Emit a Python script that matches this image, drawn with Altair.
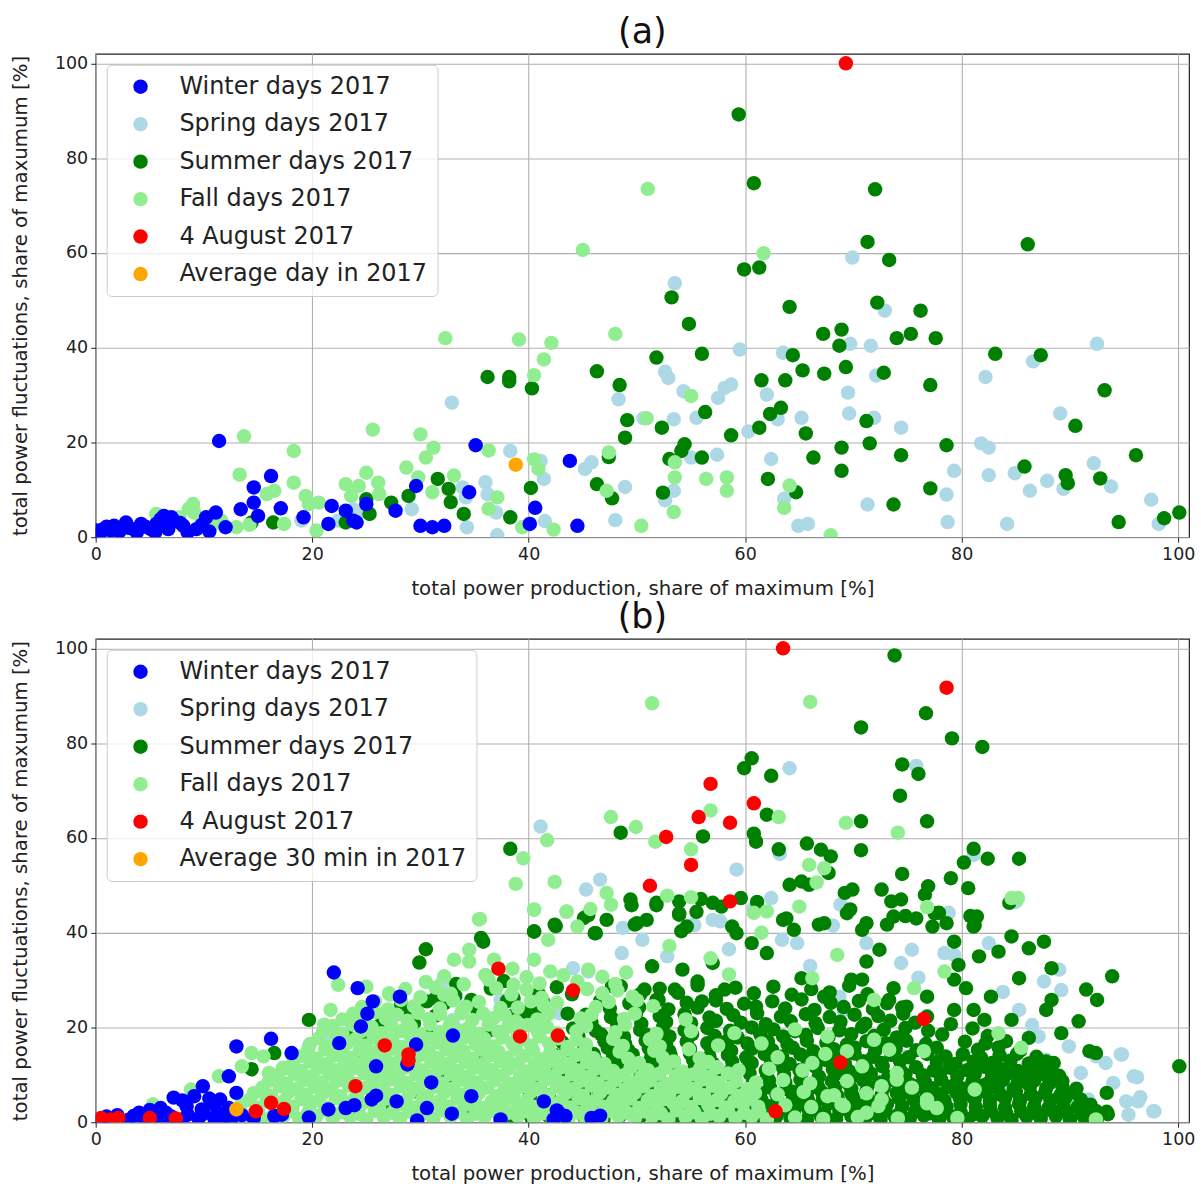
import altair as alt
import pandas as pd

# ---------------------------------------------------------------------------
# (a) daily values, 2017
# ---------------------------------------------------------------------------
A_WINTER = [
    (11.4, 20.3), (16.2, 12.9), (14.6, 10.5), (14.6, 7.3), (15.0, 4.5), (13.4, 5.9),
    (11.1, 5.2), (17.1, 6.1), (12.0, 2.1), (9.3, 1.7), (8.1, 2.4), (7.2, 3.5),
    (6.3, 4.5), (5.6, 2.8), (4.2, 2.8), (2.8, 3.1), (1.7, 2.4), (0.7, 1.7),
    (0.1, 1.4), (1.4, 1.4), (3.5, 1.7), (5.1, 1.7), (6.7, 1.7), (0.4, 0.8),
    (1.0, 2.2), (2.2, 1.2), (3.0, 2.0), (3.8, 1.0), (4.6, 2.2), (5.5, 1.0),
    (6.0, 3.8), (7.0, 4.2), (7.8, 3.0), (8.5, 1.0), (9.8, 2.6), (10.5, 1.2),
    (10.2, 4.2), (21.5, 2.8), (21.8, 6.6), (23.1, 5.6), (23.8, 3.5), (24.1, 3.1),
    (25.0, 7.0), (27.7, 5.6), (30.0, 2.4), (29.6, 10.8), (19.2, 4.2), (35.1, 19.4),
    (43.8, 16.1), (40.6, 6.2), (40.1, 2.8), (44.5, 2.4), (32.2, 2.4), (31.1, 2.1),
    (34.5, 9.5),
]
A_SPRING = [
    (29.2, 5.9), (23.8, 5.9), (24.3, 5.2), (22.4, 3.5), (19.0, 3.5), (32.9, 28.4),
    (38.3, 18.2), (41.1, 16.1), (41.4, 12.3), (45.2, 14.4), (45.8, 15.8), (36.0, 11.6),
    (36.2, 9.1), (33.9, 10.5), (34.2, 8.4), (34.3, 2.1), (37.1, 0.4), (41.5, 3.4),
    (37.0, 5.2), (48.3, 29.1), (50.6, 25.1), (53.4, 24.9), (52.6, 34.9), (52.9, 33.6),
    (54.3, 30.8), (57.5, 29.4), (58.1, 31.5), (58.7, 32.2), (55.5, 25.2), (57.4, 17.4),
    (55.0, 16.8), (48.9, 10.6), (52.6, 7.8), (53.4, 9.8), (48.0, 3.6), (59.5, 39.6),
    (60.3, 22.3), (62.0, 30.1), (63.5, 38.9), (63.0, 24.9), (65.2, 25.2), (62.4, 16.5),
    (63.6, 8.1), (64.9, 2.4), (65.8, 2.8), (53.5, 53.6), (69.9, 59.0), (72.9, 47.8),
    (69.7, 40.8), (71.6, 40.4), (92.5, 40.8), (72.1, 34.1), (69.5, 30.5), (82.2, 33.8),
    (69.6, 26.1), (71.9, 25.2), (74.4, 23.1), (89.1, 26.1), (81.8, 19.8), (82.5, 18.9),
    (79.3, 14.0), (82.5, 13.1), (84.9, 13.5), (87.9, 11.9), (89.4, 10.2), (92.2, 15.6),
    (93.8, 10.7), (78.6, 9.0), (86.3, 9.8), (71.3, 6.9), (78.7, 3.2), (84.2, 2.8),
    (97.5, 7.9), (98.2, 2.8), (86.6, 37.1),
]
A_SUMMER = [
    (14.4, 3.1), (16.4, 3.1), (23.1, 3.1), (25.0, 8.0), (25.3, 4.9), (27.3, 7.3),
    (28.9, 8.7), (36.2, 33.8), (38.2, 33.8), (38.2, 32.9), (40.3, 31.4), (46.3, 35.0),
    (48.4, 32.1), (49.1, 24.7), (48.9, 21.0), (51.8, 37.9), (52.3, 23.1), (53.2, 50.6),
    (54.8, 45.0), (56.0, 38.7), (56.3, 26.4), (54.4, 19.6), (54.1, 18.2), (53.0, 16.5),
    (56.0, 16.8), (58.7, 21.5), (46.3, 11.2), (47.7, 8.2), (47.4, 16.9), (52.4, 9.4),
    (40.2, 10.4), (38.3, 4.2), (34.0, 4.9), (31.6, 12.3), (32.6, 10.2), (32.8, 7.4),
    (61.5, 33.1), (63.7, 33.1), (62.3, 26.0), (63.3, 27.3), (61.3, 23.1), (65.3, 35.2),
    (64.4, 38.4), (64.1, 48.6), (65.6, 21.9), (66.3, 16.8), (62.1, 12.3), (64.7, 9.5),
    (59.4, 89.2), (60.8, 74.7), (59.9, 56.5), (61.3, 56.9), (72.0, 73.4), (71.3, 62.3),
    (73.3, 58.5), (72.2, 49.5), (76.2, 47.8), (86.1, 61.8), (67.2, 42.9), (68.9, 43.8),
    (68.7, 40.4), (74.0, 42.0), (75.3, 42.9), (77.6, 42.0), (83.1, 38.7), (87.3, 38.4),
    (67.3, 34.5), (69.3, 35.9), (72.8, 34.7), (77.1, 32.1), (93.2, 31.0), (71.2, 24.5),
    (90.5, 23.5), (68.9, 18.9), (71.5, 19.8), (78.6, 19.4), (74.4, 17.3), (68.9, 14.0),
    (85.8, 14.9), (89.6, 13.1), (89.8, 11.4), (92.8, 12.4), (96.1, 17.3), (77.1, 10.3),
    (73.7, 6.9), (94.5, 3.2), (98.7, 4.0), (100.1, 5.2),
]
A_FALL = [
    (5.6, 4.9), (9.0, 7.0), (9.1, 5.2), (9.8, 3.5), (10.9, 2.8), (13.0, 2.1),
    (13.7, 21.3), (13.3, 13.2), (15.8, 9.1), (16.5, 9.8), (17.4, 2.8), (18.3, 18.2),
    (18.3, 11.5), (19.4, 8.7), (19.7, 7.0), (20.6, 7.3), (20.4, 1.4), (23.1, 11.2),
    (24.3, 10.8), (23.6, 8.7), (25.0, 13.6), (25.6, 22.7), (26.1, 11.5), (26.2, 9.1),
    (28.7, 14.7), (29.8, 12.6), (30.0, 21.7), (30.5, 16.8), (11.6, 3.5), (7.7, 4.2),
    (8.6, 6.0), (14.2, 2.6), (32.3, 42.0), (39.1, 41.7), (42.1, 41.0), (41.4, 37.5),
    (40.5, 34.2), (48.0, 42.9), (31.2, 18.9), (36.3, 18.3), (33.1, 13.0), (31.1, 9.5),
    (37.1, 8.4), (36.3, 6.0), (39.4, 2.1), (42.3, 1.6), (40.5, 16.4), (40.9, 14.4),
    (47.4, 17.9), (47.2, 9.8), (50.4, 2.4), (50.9, 25.1), (55.0, 29.8), (53.5, 15.8),
    (53.5, 12.6), (53.4, 5.3), (56.4, 12.3), (58.3, 12.6), (58.3, 9.8), (64.1, 10.9),
    (63.6, 6.2), (51.0, 73.5), (45.0, 60.6), (61.7, 59.9), (67.9, 0.4),
]
A_AUG4 = [(69.3, 100.0)]
A_AVG = [(38.8, 15.3)]

# ---------------------------------------------------------------------------
# (b) 30-minute values, 2017
# ---------------------------------------------------------------------------
B_WINTER = [
    (22.0, 31.6), (24.2, 28.3), (25.6, 25.5), (25.1, 22.9), (24.5, 20.2), (28.1, 26.5),
    (22.5, 16.7), (25.9, 11.8), (28.8, 12.2), (31.0, 8.4), (25.9, 5.6), (25.5, 4.8),
    (27.8, 4.4), (30.6, 3.0), (32.9, 1.8), (29.7, 0.4), (34.7, 5.5), (33.0, 18.3),
    (29.6, 16.4), (41.4, 4.4), (42.8, 2.0), (43.4, 1.3), (42.3, 0.6), (37.4, 0.6),
    (45.8, 0.9), (23.9, 3.6), (23.1, 3.0), (21.5, 2.7), (19.7, 1.0), (13.0, 16.0),
    (16.2, 17.6), (18.1, 14.6), (12.3, 9.7), (9.9, 7.6), (7.2, 5.2), (9.1, 5.5),
    (13.0, 6.2), (8.4, 3.4), (9.8, 2.7), (10.9, 3.8), (12.3, 3.0), (11.3, 2.0),
    (14.6, 0.9), (16.5, 1.3), (17.2, 1.6), (42.6, 2.5), (0.5, 0.5), (1.0, 1.2),
    (2.0, 1.5), (3.0, 0.5), (3.5, 1.3), (4.0, 2.0), (4.5, 0.8), (5.5, 1.5),
    (6.0, 0.5), (6.5, 2.0), (7.0, 1.2), (8.0, 0.6), (8.5, 1.6), (9.5, 0.8),
    (10.0, 1.8), (11.0, 0.6), (12.0, 1.2), (12.5, 0.5), (13.5, 1.5), (6.0, 3.0),
    (5.0, 2.6), (10.5, 5.0), (11.5, 4.8), (8.0, 4.6), (46.6, 1.4),
]
B_SPRING = [
    (41.1, 62.4), (64.1, 74.7), (75.8, 75.2), (59.2, 53.3), (63.2, 56.6), (46.6, 51.2),
    (45.3, 49.1), (62.4, 47.3), (60.8, 45.2), (68.8, 45.9), (68.1, 41.5), (78.8, 44.2),
    (55.2, 41.7), (57.7, 42.4), (48.7, 41.0), (81.1, 56.4), (85.0, 46.5),
    (19.7, 16.0), (32.0, 29.4), (33.3, 26.6), (37.4, 25.8), (29.6, 24.1), (33.0, 21.6),
    (44.1, 32.5), (42.8, 23.0), (21.5, 18.5), (45.5, 31.8),
    (82.5, 37.8), (87.6, 29.7), (89.0, 32.2), (85.3, 23.7), (89.2, 27.9), (94.7, 14.3),
    (95.9, 9.7), (96.3, 4.4), (97.7, 2.3), (95.4, 1.6), (93.3, 12.5), (94.0, 8.3),
    (92.4, 13.9), (89.9, 16.0), (91.0, 10.4), (90.6, 4.8), (87.8, 13.2), (87.1, 18.1),
    (78.4, 35.7), (79.3, 35.3), (74.4, 33.6), (75.4, 36.4), (67.6, 25.8), (68.7, 26.5),
    (71.2, 37.8), (64.8, 37.8), (63.4, 38.5), (55.3, 41.6), (57.0, 42.7), (52.8, 35.0),
    (48.6, 35.7), (62.0, 17.4), (69.1, 23.7), (72.1, 15.7), (74.7, 13.9), (78.2, 13.2),
    (80.2, 14.6), (83.2, 12.2), (84.2, 7.6), (85.3, 4.4), (79.7, 2.0), (91.7, 4.8),
    (93.4, 2.0), (95.2, 4.4), (96.5, 5.3), (97.8, 2.3), (94.8, 14.3), (96.2, 9.5),
    (86.5, 20.5), (83.8, 27.5), (76.0, 30.5), (66.0, 33.0), (58.5, 36.5), (50.5, 38.5),
]
B_SUMMER = [
    # upper scatter
    (73.8, 98.5), (76.7, 86.3), (70.7, 83.3), (79.1, 81.0), (81.9, 79.2), (60.6, 76.8),
    (59.9, 74.7), (62.4, 73.1), (74.5, 75.5), (76.0, 73.5), (74.3, 68.9), (70.7, 63.5),
    (76.8, 63.5), (62.0, 64.9), (60.8, 60.9), (61.0, 59.2), (63.1, 57.6), (65.7, 58.8),
    (67.0, 57.5), (67.9, 56.1), (70.7, 57.4), (81.1, 57.7), (82.4, 55.6), (80.2, 54.8),
    (74.5, 52.4), (79.0, 51.5), (80.6, 49.4), (67.7, 52.6), (64.1, 50.1), (65.2, 50.8),
    (65.9, 50.1), (69.2, 48.4), (69.9, 49.1), (72.6, 49.1), (73.5, 46.6), (74.4, 47.0),
    (76.9, 49.8), (76.6, 48.0), (78.6, 42.0), (80.8, 43.5), (81.1, 41.3), (38.3, 57.7),
    (48.5, 61.1), (56.1, 60.3), (49.4, 47.0), (51.8, 46.3), (53.9, 46.6), (55.9, 47.1),
    (57.0, 46.3), (59.6, 47.3), (53.9, 43.8), (50.9, 42.7), (47.2, 42.7), (45.1, 43.1),
    (42.4, 41.7), (40.5, 40.3), (46.1, 39.9), (49.8, 41.7), (35.6, 38.9), (54.1, 40.3),
    (58.8, 41.3), (63.5, 42.7), (66.8, 41.7), (69.7, 44.9), (70.8, 40.6), (73.1, 41.7),
    (74.8, 43.5), (77.9, 44.2), (77.3, 41.3), (84.4, 46.3), (85.3, 55.6),
    (49.5, 45.8), (51.8, 45.8), (53.9, 44.1), (55.5, 44.4), (57.8, 45.5), (61.1, 46.5),
    (63.8, 43.0), (64.5, 40.6), (67.3, 42.0), (69.4, 44.1), (71.2, 42.0), (73.7, 43.4),
    (75.8, 43.0), (77.5, 44.1), (81.4, 43.4), (81.2, 41.6), (84.6, 39.2), (86.2, 36.7),
    (87.6, 38.1), (83.4, 36.0), (79.3, 38.1), (79.7, 33.2), (81.6, 35.0), (85.3, 30.4),
    (88.3, 32.5), (93.9, 30.8), (91.5, 28.0), (92.5, 25.8), (82.7, 26.5), (87.8, 23.7),
    (88.3, 25.8), (90.8, 21.3), (91.8, 15.0), (92.4, 14.6), (100.1, 11.8), (93.4, 6.2),
    (71.2, 33.9), (72.4, 36.4), (70.8, 30.1), (69.8, 30.1), (67.3, 26.5), (65.2, 30.4),
    (62.0, 35.7), (60.6, 37.8), (59.2, 39.9), (57.0, 33.6), (54.6, 41.3), (54.2, 32.2),
    (51.4, 32.9), (50.0, 42.0), (50.7, 28.0), (47.7, 28.7), (53.5, 28.0), (55.6, 29.7),
    (58.1, 28.0), (56.0, 25.5), (51.8, 25.8), (73.7, 28.3), (73.3, 25.8), (74.9, 24.4),
    (76.8, 26.5), (79.3, 30.1), (80.4, 28.3), (81.1, 23.7), (79.3, 23.7), (82.1, 21.6),
    (84.6, 21.6), (86.2, 17.8), (89.2, 18.8), (88.1, 10.4), (88.5, 12.5), (93.4, 2.2),
    (30.5, 36.5), (29.9, 33.7), (35.8, 38.1), (42.5, 41.4), (40.5, 40.2), (33.3, 29.2),
    (31.4, 26.2), (32.2, 25.1), (34.7, 25.8), (38.6, 26.2), (31.4, 22.5), (40.9, 27.2),
    (19.7, 21.6), (28.2, 24.8), (29.1, 23.0), (26.4, 20.8), (29.4, 20.9), (23.2, 18.3),
    (24.8, 18.5), (16.5, 14.6), (14.4, 11.2), (24.1, 12.9), (46.2, 39.9), (45.5, 43.7),
    (26.5, 3.5), (29.5, 6.5), (32.5, 9.5), (35.5, 12.5), (37.5, 4.5), (33.5, 15.5),
    (36.5, 19.5), (31.0, 18.5), (38.5, 22.5), (34.5, 2.2),
    (35.2, 23.9), (41.3, 25.6), (38.0, 25.6), (33.2, 26.7), (43.6, 22.9), (40.6, 23.0),
    (44.0, 27.0), (30.6, 25.5), (36.5, 28.2), (42.6, 28.5), (39.8, 23.2), (37.7, 29.8),
    # dense band
    (38.6, 1.1), (40.3, 0.7), (41.8, 1.4), (43.6, 0.8), (45.1, 1.2), (46.9, 0.6),
    (48.4, 1.3), (50.2, 0.9), (51.7, 0.5), (53.5, 1.2), (55.0, 0.8), (56.8, 1.4),
    (58.3, 0.7), (60.0, 1.1), (61.4, 0.6), (62.9, 1.3), (64.2, 0.8), (65.7, 0.5),
    (67.0, 1.2), (68.4, 0.7), (69.8, 1.3), (71.1, 0.9), (72.5, 0.6), (73.8, 1.2),
    (75.2, 0.8), (76.5, 1.4), (77.9, 0.6), (79.2, 1.1), (80.6, 0.7), (81.9, 1.3),
    (83.3, 0.9), (84.6, 0.5), (86.0, 1.2), (87.3, 0.8), (88.7, 1.3), (90.0, 0.6),
    (91.3, 1.1), (92.5, 0.8),
    (39.5, 2.1), (41.1, 2.4), (42.7, 1.9), (44.3, 2.3), (45.9, 2.0), (47.5, 2.5),
    (49.1, 2.1), (50.7, 1.8), (52.3, 2.4), (53.9, 2.0), (55.5, 2.3), (57.1, 1.9),
    (58.7, 2.5), (60.2, 2.1), (61.7, 1.8), (63.1, 2.4), (64.5, 2.0), (65.9, 2.3),
    (67.3, 1.9), (68.7, 2.5), (70.1, 2.1), (71.5, 1.8), (72.9, 2.4), (74.3, 2.0),
    (75.7, 2.3), (77.1, 1.9), (78.5, 2.5), (79.9, 2.1), (81.3, 1.8), (82.7, 2.4),
    (84.1, 2.0), (85.5, 2.3), (86.9, 1.9), (88.3, 2.5), (89.7, 2.1), (91.1, 1.8),
    (92.4, 2.4), (93.5, 1.7),
    (39.4, 3.3), (41.1, 3.8), (42.8, 3.1), (44.4, 3.6), (46.1, 3.9), (47.7, 3.2),
    (49.4, 3.7), (51.0, 3.0), (52.7, 3.5), (54.3, 3.9), (56.0, 3.2), (57.6, 3.6),
    (59.2, 3.1), (60.7, 3.8), (62.2, 3.4), (63.6, 3.0), (65.0, 3.7), (66.4, 3.3),
    (67.7, 3.9), (69.1, 3.2), (70.4, 3.6), (71.8, 3.1), (73.1, 3.8), (74.5, 3.4),
    (75.9, 3.0), (77.2, 3.7), (78.6, 3.3), (79.9, 3.9), (81.3, 3.2), (82.6, 3.6),
    (84.0, 3.1), (85.3, 3.8), (86.7, 3.4), (88.0, 3.0), (89.4, 3.6), (90.7, 3.2),
    (91.9, 3.7),
    (40.2, 4.8), (41.9, 5.1), (43.6, 4.6), (45.2, 5.0), (46.9, 4.7), (48.5, 5.2),
    (50.2, 4.8), (51.8, 4.5), (53.5, 5.1), (55.1, 4.7), (56.8, 5.0), (58.4, 4.6),
    (60.0, 5.2), (61.5, 4.8), (63.0, 4.5), (64.4, 5.1), (65.8, 4.7), (67.2, 5.0),
    (68.6, 4.6), (70.0, 5.2), (71.4, 4.8), (72.8, 4.5), (74.2, 5.1), (75.6, 4.7),
    (77.0, 5.0), (78.4, 4.6), (79.8, 5.2), (81.2, 4.8), (82.6, 4.5), (84.0, 5.1),
    (85.4, 4.7), (86.8, 5.0), (88.2, 4.6), (89.6, 5.2), (91.0, 4.8),
    (40.1, 6.2), (41.8, 5.7), (43.5, 6.4), (45.1, 5.9), (46.8, 6.5), (48.4, 5.8),
    (50.1, 6.3), (51.7, 5.6), (53.4, 6.1), (55.0, 6.6), (56.7, 5.9), (58.3, 6.4),
    (59.9, 5.7), (61.4, 6.2), (62.9, 5.8), (64.3, 6.5), (65.7, 5.9), (67.1, 6.3),
    (68.5, 5.6), (69.8, 6.1), (71.2, 6.6), (72.6, 5.8), (74.0, 6.2), (75.4, 5.7),
    (76.7, 6.4), (78.1, 5.9), (79.5, 6.3), (80.9, 5.6), (82.3, 6.2), (83.6, 5.8),
    (85.0, 6.5), (86.4, 5.9), (87.7, 6.2), (89.1, 5.7), (90.4, 6.3),
    (41.0, 7.3), (42.7, 7.6), (44.4, 7.1), (46.0, 7.5), (47.7, 7.2), (49.3, 7.7),
    (51.0, 7.3), (52.6, 7.0), (54.3, 7.6), (55.9, 7.2), (57.6, 7.5), (59.2, 7.1),
    (60.8, 7.7), (62.3, 7.3), (63.8, 7.0), (65.3, 7.6), (66.8, 7.2), (68.3, 7.5),
    (69.8, 7.1), (71.3, 7.7), (72.8, 7.3), (74.3, 7.0), (75.8, 7.6), (77.3, 7.2),
    (78.8, 7.5), (80.3, 7.1), (81.8, 7.7), (83.3, 7.3), (84.8, 7.0), (86.3, 7.6),
    (87.8, 7.2), (89.3, 7.5), (90.6, 7.1),
    (40.9, 8.4), (42.6, 8.9), (44.3, 8.2), (45.9, 8.7), (47.6, 9.1), (49.2, 8.3),
    (50.9, 8.8), (52.5, 8.1), (54.2, 8.6), (55.8, 9.0), (57.5, 8.3), (59.1, 8.8),
    (60.7, 8.2), (62.2, 8.9), (63.7, 8.4), (65.1, 9.0), (66.6, 8.3), (68.0, 8.7),
    (69.5, 8.2), (70.9, 8.9), (72.4, 8.4), (73.8, 8.8), (75.2, 8.1), (76.6, 8.6),
    (78.1, 9.0), (79.5, 8.3), (81.0, 8.7), (82.4, 8.2), (83.8, 8.9), (85.2, 8.4),
    (86.7, 8.8), (88.1, 8.2), (89.3, 8.7),
    (41.8, 10.0), (43.5, 9.7), (45.2, 10.3), (46.9, 9.8), (48.6, 10.2), (50.3, 9.6),
    (52.0, 10.1), (53.7, 10.4), (55.4, 9.7), (57.1, 10.1), (58.8, 9.8), (60.4, 10.3),
    (62.0, 9.6), (63.6, 10.0), (65.2, 10.4), (66.8, 9.7), (68.4, 10.2), (70.0, 9.8),
    (71.6, 10.3), (73.2, 9.6), (74.8, 10.1), (76.4, 9.9), (78.0, 10.3), (79.6, 9.7),
    (81.2, 10.2), (82.8, 9.8), (84.4, 10.4), (86.0, 9.7), (87.6, 10.1), (89.0, 9.8),
    (41.6, 11.1), (43.4, 11.6), (45.1, 10.9), (46.8, 11.5), (48.5, 11.0), (50.2, 11.7),
    (51.9, 11.2), (53.6, 10.8), (55.3, 11.4), (57.0, 11.8), (58.7, 11.1), (60.3, 11.6),
    (61.9, 10.9), (63.5, 11.5), (65.0, 11.0), (66.5, 11.7), (68.1, 11.2), (69.6, 10.8),
    (71.2, 11.4), (72.7, 11.8), (74.3, 11.1), (75.8, 11.6), (77.4, 10.9), (78.9, 11.5),
    (80.5, 11.0), (82.1, 11.7), (83.6, 11.2), (85.2, 10.8), (86.8, 11.4), (88.3, 11.0),
    (42.6, 12.7), (44.4, 12.4), (46.2, 13.0), (48.0, 12.5), (49.8, 12.9), (51.6, 12.3),
    (53.4, 12.8), (55.2, 13.1), (57.0, 12.4), (58.8, 12.8), (60.6, 12.5), (62.4, 13.0),
    (64.1, 12.3), (65.8, 12.7), (67.5, 13.1), (69.2, 12.4), (70.9, 12.9), (72.6, 12.5),
    (74.3, 13.0), (77.7, 12.7), (79.4, 12.3), (81.1, 12.8), (82.8, 12.5), (84.5, 13.0),
    (86.2, 12.4), (87.8, 12.8),
    (42.4, 14.2), (44.2, 13.7), (46.0, 14.4), (47.8, 13.9), (49.6, 14.3), (51.3, 13.6),
    (53.1, 14.1), (54.9, 14.5), (56.7, 13.8), (58.4, 14.2), (60.1, 13.7), (61.8, 14.4),
    (63.4, 13.9), (65.1, 14.3), (66.8, 13.6), (68.5, 14.1), (70.1, 14.5), (71.8, 13.8),
    (73.5, 14.2), (75.1, 13.7), (76.8, 14.4), (78.5, 13.9), (80.1, 14.3), (81.8, 13.6),
    (83.5, 14.1), (85.1, 14.4), (86.9, 13.8),
    (43.5, 15.4), (45.4, 15.1), (47.3, 15.7), (49.2, 15.2), (51.1, 15.6), (53.0, 15.0),
    (54.9, 15.5), (56.8, 15.8), (58.7, 15.1), (60.6, 15.5), (62.5, 15.2), (64.4, 15.7),
    (66.3, 15.0), (68.2, 15.4), (70.1, 15.8), (72.0, 15.1), (73.9, 15.6), (75.8, 15.2),
    (77.7, 15.7), (81.5, 15.3), (83.4, 15.8), (85.4, 15.1),
    (43.1, 16.9), (45.1, 16.4), (47.0, 17.1), (48.9, 16.6), (50.8, 17.2), (52.7, 16.5),
    (54.6, 17.0), (56.5, 16.7), (58.4, 17.3), (60.2, 16.6), (62.1, 17.0), (63.9, 16.5),
    (65.7, 17.2), (67.5, 16.8), (69.4, 16.4), (71.2, 17.1), (73.0, 16.7), (74.9, 17.2),
    (76.7, 16.5), (80.3, 17.0), (82.2, 16.6), (84.1, 17.1),
    (44.6, 18.2), (46.7, 18.5), (48.8, 18.0), (50.9, 18.4), (53.0, 18.1), (55.1, 18.6),
    (57.2, 18.2), (59.3, 17.9), (61.4, 18.5), (63.5, 18.1), (65.6, 18.4), (67.7, 18.0),
    (69.8, 18.6), (71.9, 18.2), (74.0, 17.9), (78.2, 18.5), (82.4, 18.2),
    (44.1, 19.8), (46.2, 19.3), (48.2, 20.0), (50.3, 19.5), (52.4, 20.1), (54.4, 19.4),
    (56.5, 19.9), (58.6, 19.3), (60.6, 20.0), (62.6, 19.6), (64.6, 19.2), (66.7, 19.9),
    (68.7, 19.4), (70.8, 20.1), (72.8, 19.5), (74.8, 19.9), (76.9, 19.3), (81.0, 19.8),
    (45.8, 21.0), (48.1, 21.3), (50.4, 20.8), (52.7, 21.2), (55.0, 20.9), (57.3, 21.4),
    (59.6, 21.0), (61.9, 20.7), (64.2, 21.3), (66.5, 20.9), (68.8, 21.2), (71.1, 20.8),
    (73.4, 21.4), (75.7, 21.0), (79.0, 20.7),
    (45.3, 22.7), (47.6, 22.2), (49.9, 22.9), (52.1, 22.4), (54.4, 22.8), (56.7, 22.1),
    (58.9, 22.6), (61.1, 23.0), (63.3, 22.3), (65.6, 22.8), (67.8, 22.2), (70.1, 22.7),
    (72.3, 22.4), (74.6, 22.9), (76.8, 22.3),
    (47.5, 24.0), (50.2, 24.3), (52.9, 23.8), (55.6, 24.2), (58.3, 23.9), (61.0, 24.4),
    (63.7, 24.0), (66.4, 23.7), (69.1, 24.3), (71.8, 23.9), (74.5, 24.2),
    (46.6, 25.6), (49.3, 25.1), (52.0, 25.8), (54.6, 25.2), (57.3, 25.7), (59.9, 25.0),
    (62.5, 25.5), (65.2, 25.9), (67.9, 25.2), (70.5, 25.6), (73.1, 25.1),
    (50.3, 27.0), (53.8, 27.3), (57.3, 26.8), (60.8, 27.2), (64.3, 26.9), (67.8, 27.4),
    (71.3, 27.0),
    (48.5, 28.7), (52.1, 28.2), (55.6, 28.9), (59.1, 28.4), (62.6, 28.6), (66.1, 28.1),
    (69.6, 28.8),
]
B_FALL = [
    # upper scatter
    (51.4, 88.4), (66.0, 88.7), (56.8, 65.8), (63.1, 64.4), (69.3, 63.2), (74.1, 61.1),
    (47.6, 64.4), (49.9, 62.3), (51.7, 59.2), (55.0, 57.6), (41.7, 59.5), (39.5, 55.7),
    (38.8, 50.3), (42.4, 50.7), (35.5, 42.9), (65.9, 54.3), (67.3, 53.6), (66.6, 50.6),
    (40.5, 44.9), (43.5, 44.5), (45.7, 45.0), (47.2, 48.4), (47.6, 45.9), (52.8, 47.8),
    (55.0, 47.5), (60.8, 44.2), (76.8, 45.4), (84.6, 47.3), (44.5, 41.3), (85.2, 47.3),
    (35.4, 42.8), (40.5, 44.8), (43.5, 44.4), (41.8, 38.5), (40.5, 34.3), (34.5, 36.4),
    (33.1, 34.3), (34.5, 33.9), (36.3, 30.1), (36.8, 34.3), (22.4, 29.0), (25.0, 28.6),
    (27.1, 27.2), (21.7, 23.7), (21.1, 20.6), (33.8, 23.0), (32.2, 26.9), (38.6, 29.0),
    (37.4, 24.1), (14.4, 14.6), (15.5, 13.9), (13.5, 11.8), (11.4, 9.7), (16.0, 10.4),
    (17.3, 11.5), (8.8, 6.9), (5.3, 3.8), (62.0, 44.5), (65.0, 45.5),
    (66.2, 30.4), (68.5, 35.3), (71.9, 25.8), (75.6, 28.3), (78.4, 31.8), (76.5, 15.0),
    (83.4, 18.8), (85.5, 15.7), (81.2, 6.9), (92.4, 0.6), (67.6, 18.1), (69.4, 15.0),
    (70.8, 11.8), (71.9, 17.4), (74.0, 10.4), (75.4, 7.3), (73.3, 15.3), (66.2, 12.5),
    (67.6, 5.5), (69.1, 3.4), (71.2, 2.0), (72.6, 4.8), (76.8, 4.8), (77.7, 3.0),
    (72.6, 7.6), (74.0, 9.0), (58.5, 31.2), (56.8, 34.6), (53.0, 37.2), (61.5, 40.0),
    # dense cloud
    (12.6, 0.8), (14.2, 1.2), (15.7, 0.6), (17.3, 1.1), (18.8, 0.7), (20.4, 1.3),
    (21.9, 0.8), (23.5, 1.2), (25.0, 0.6), (26.6, 1.1), (28.1, 0.7), (29.7, 1.3),
    (31.2, 0.8), (32.8, 1.2), (34.3, 0.6), (35.9, 1.1), (37.4, 0.7), (39.0, 1.3),
    (40.5, 0.8), (42.1, 1.2), (43.6, 0.6), (45.2, 1.1), (46.7, 0.7), (48.3, 1.3),
    (49.8, 0.8), (51.4, 1.2), (52.9, 0.6), (54.5, 1.1), (56.0, 0.7), (57.6, 1.3),
    (59.1, 0.8), (60.6, 1.2), (62.0, 0.6), (64.6, 1.0), (67.2, 0.7), (70.4, 1.1),
    (74.1, 0.8), (79.6, 0.9),
    (13.4, 2.1), (15.0, 2.4), (16.5, 1.9), (18.1, 2.3), (19.6, 2.0), (21.2, 2.5),
    (22.7, 2.1), (24.3, 1.8), (25.8, 2.4), (27.4, 2.0), (28.9, 2.3), (30.5, 1.9),
    (32.0, 2.5), (33.6, 2.1), (35.1, 1.8), (36.7, 2.4), (38.2, 2.0), (39.8, 2.3),
    (41.3, 1.9), (42.9, 2.5), (44.4, 2.1), (46.0, 1.8), (47.5, 2.4), (49.1, 2.0),
    (50.6, 2.3), (52.2, 1.9), (53.7, 2.5), (55.3, 2.1), (56.8, 1.8), (58.4, 2.4),
    (59.9, 2.0), (61.3, 2.3),
    (13.4, 3.6), (15.0, 3.1), (16.6, 3.8), (18.2, 3.3), (19.8, 3.7), (21.4, 3.0),
    (23.0, 3.5), (24.6, 3.9), (26.2, 3.2), (27.8, 3.6), (29.4, 3.1), (31.0, 3.8),
    (32.6, 3.3), (34.2, 3.7), (35.8, 3.0), (37.4, 3.5), (39.0, 3.9), (40.6, 3.2),
    (42.2, 3.6), (43.8, 3.1), (45.4, 3.8), (47.0, 3.3), (48.6, 3.7), (50.2, 3.0),
    (51.8, 3.5), (53.4, 3.9), (55.0, 3.2), (56.6, 3.6), (58.2, 3.1), (59.8, 3.8),
    (61.2, 3.3), (63.7, 3.6), (66.1, 3.2), (68.9, 3.7), (72.3, 3.4), (76.8, 4.0),
    (14.2, 4.7), (15.8, 5.0), (17.4, 4.5), (19.0, 4.9), (20.6, 4.6), (22.2, 5.1),
    (23.8, 4.7), (25.4, 4.4), (27.0, 5.0), (28.6, 4.6), (30.2, 4.9), (31.8, 4.5),
    (33.4, 5.1), (35.0, 4.7), (36.6, 4.4), (38.2, 5.0), (39.8, 4.6), (41.4, 4.9),
    (43.0, 4.5), (44.6, 5.1), (46.2, 4.7), (47.8, 4.4), (49.4, 5.0), (51.0, 4.6),
    (52.6, 4.9), (54.2, 4.5), (55.8, 5.1), (57.4, 4.7), (59.0, 4.4), (60.5, 5.0),
    (14.6, 6.1), (16.2, 5.6), (17.8, 6.3), (19.4, 5.8), (21.0, 6.2), (22.6, 5.5),
    (24.2, 6.0), (25.8, 6.4), (27.4, 5.7), (29.0, 6.1), (30.6, 5.6), (32.2, 6.3),
    (33.8, 5.8), (35.4, 6.2), (37.0, 5.5), (38.6, 6.0), (40.2, 6.4), (41.8, 5.7),
    (43.4, 6.1), (45.0, 5.6), (46.6, 6.3), (48.2, 5.8), (49.8, 6.2), (51.4, 5.5),
    (53.0, 6.0), (54.6, 6.4), (56.2, 5.7), (57.8, 6.1), (59.4, 5.6), (60.9, 6.2),
    (63.0, 5.9), (65.4, 6.4), (68.2, 5.7), (71.2, 6.1),
    (15.4, 7.3), (17.0, 7.6), (18.6, 7.1), (20.2, 7.5), (21.8, 7.2), (23.4, 7.7),
    (25.0, 7.3), (26.6, 7.0), (28.2, 7.6), (29.8, 7.2), (31.4, 7.5), (33.0, 7.1),
    (34.6, 7.7), (36.2, 7.3), (37.8, 7.0), (39.4, 7.6), (41.0, 7.2), (42.6, 7.5),
    (44.2, 7.1), (45.8, 7.7), (47.4, 7.3), (49.0, 7.0), (50.6, 7.6), (52.2, 7.2),
    (53.8, 7.5), (55.4, 7.1), (57.0, 7.7), (58.6, 7.3), (60.2, 7.0),
    (16.0, 8.7), (17.6, 8.2), (19.2, 8.9), (20.8, 8.4), (22.4, 8.8), (24.0, 8.1),
    (25.6, 8.6), (27.2, 9.0), (28.8, 8.3), (30.4, 8.7), (32.0, 8.2), (33.6, 8.9),
    (35.2, 8.4), (36.8, 8.8), (38.4, 8.1), (40.0, 8.6), (41.6, 9.0), (43.2, 8.3),
    (44.8, 8.7), (46.4, 8.2), (48.0, 8.9), (49.6, 8.4), (51.2, 8.8), (52.8, 8.1),
    (54.4, 8.6), (56.0, 9.0), (57.6, 8.3), (59.2, 8.7), (61.0, 8.4), (63.5, 8.9),
    (66.0, 8.2), (69.4, 8.7),
    (16.8, 9.9), (18.4, 10.2), (20.0, 9.7), (21.6, 10.1), (23.2, 9.8), (24.8, 10.3),
    (26.4, 9.9), (28.0, 9.6), (29.6, 10.2), (31.2, 9.8), (32.8, 10.1), (34.4, 9.7),
    (36.0, 10.3), (37.6, 9.9), (39.2, 9.6), (40.8, 10.2), (42.4, 9.8), (44.0, 10.1),
    (45.6, 9.7), (47.2, 10.3), (48.8, 9.9), (50.4, 9.6), (52.0, 10.2), (53.6, 9.8),
    (55.2, 10.1), (56.8, 9.7), (58.4, 10.3),
    (17.4, 11.3), (19.0, 10.8), (20.6, 11.5), (22.2, 11.0), (23.8, 11.4), (25.4, 10.7),
    (27.0, 11.2), (28.6, 11.6), (30.2, 10.9), (31.8, 11.3), (33.4, 10.8), (35.0, 11.5),
    (36.6, 11.0), (38.2, 11.4), (39.8, 10.7), (41.4, 11.2), (43.0, 11.6), (44.6, 10.9),
    (46.2, 11.3), (47.8, 10.8), (49.4, 11.5), (51.0, 11.0), (52.6, 11.4), (54.2, 10.7),
    (55.8, 11.2), (57.4, 11.6), (59.4, 11.0), (62.2, 11.3), (65.3, 10.9),
    (18.2, 12.5), (19.8, 12.8), (21.4, 12.3), (23.0, 12.7), (24.6, 12.4), (26.2, 12.9),
    (27.8, 12.5), (29.4, 12.2), (31.0, 12.8), (32.6, 12.4), (34.2, 12.7), (35.8, 12.3),
    (37.4, 12.9), (39.0, 12.5), (40.6, 12.2), (42.2, 12.8), (43.8, 12.4), (45.4, 12.7),
    (47.0, 12.3), (50.2, 12.5), (53.4, 12.8), (56.6, 12.7),
    (18.8, 13.9), (20.4, 13.4), (22.0, 14.1), (23.6, 13.6), (25.2, 14.0), (26.8, 13.3),
    (28.4, 13.8), (30.0, 14.2), (31.6, 13.5), (33.2, 13.9), (34.8, 13.4), (36.4, 14.1),
    (38.0, 13.6), (39.6, 14.0), (41.2, 13.3), (42.8, 13.8), (44.4, 14.2), (46.0, 13.5),
    (49.2, 13.4), (52.4, 13.6), (55.8, 13.5), (63.0, 13.7), (67.4, 14.4),
    (19.6, 15.1), (21.2, 15.4), (22.8, 14.9), (24.4, 15.3), (26.0, 15.0), (27.6, 15.5),
    (29.2, 15.1), (30.8, 14.8), (32.4, 15.4), (34.0, 15.0), (35.6, 15.3), (37.2, 14.9),
    (38.8, 15.5), (40.4, 15.1), (42.0, 14.8), (43.6, 15.4), (45.2, 15.0), (48.4, 14.9),
    (51.6, 15.1), (54.8, 15.4),
    (19.8, 16.5), (21.5, 16.0), (23.2, 16.7), (24.9, 16.2), (26.6, 16.6), (28.3, 15.9),
    (30.0, 16.4), (31.7, 16.8), (33.4, 16.1), (35.1, 16.5), (36.8, 16.0), (38.5, 16.7),
    (40.2, 16.2), (41.9, 16.6), (43.6, 15.9), (45.3, 16.4), (48.7, 16.1), (52.1, 16.0),
    (57.5, 16.2), (61.5, 16.6),
    (20.6, 17.7), (22.3, 18.0), (24.0, 17.5), (25.7, 17.9), (27.4, 17.6), (29.1, 18.1),
    (30.8, 17.7), (32.5, 17.4), (34.2, 18.0), (35.9, 17.6), (37.6, 17.9), (39.3, 17.5),
    (41.0, 18.1), (42.7, 17.7), (44.4, 17.4), (47.8, 17.6), (51.2, 17.5),
    (21.0, 19.1), (22.8, 18.6), (24.6, 19.3), (26.4, 18.8), (28.2, 19.2), (30.0, 18.5),
    (31.8, 19.0), (33.6, 19.4), (35.4, 18.7), (37.2, 19.1), (39.0, 18.6), (40.8, 19.3),
    (42.6, 18.8), (44.4, 19.2), (48.0, 19.0), (51.8, 18.7), (55.0, 19.2), (59.0, 18.8),
    (64.6, 19.6),
    (21.9, 20.3), (23.7, 20.6), (25.5, 20.1), (27.3, 20.5), (29.1, 20.2), (30.9, 20.7),
    (32.7, 20.3), (34.5, 20.0), (36.3, 20.6), (38.1, 20.2), (39.9, 20.5), (41.7, 20.1),
    (45.3, 20.3), (48.9, 20.6),
    (22.8, 21.7), (24.8, 21.2), (26.8, 21.9), (28.8, 21.4), (30.8, 21.8), (32.8, 21.1),
    (34.8, 21.6), (36.8, 22.0), (38.8, 21.3), (40.8, 21.7), (44.8, 21.9), (48.8, 21.8),
    (54.5, 21.7),
    (23.8, 22.9), (25.8, 23.2), (27.8, 22.7), (29.8, 23.1), (31.8, 22.8), (33.8, 23.3),
    (35.8, 22.9), (37.8, 22.6), (41.8, 22.8), (45.8, 22.7), (49.8, 22.9),
    (24.6, 24.3), (27.0, 23.8), (29.4, 24.5), (31.8, 24.0), (34.2, 24.4), (39.0, 24.2),
    (41.4, 24.6), (46.2, 24.3), (51.5, 24.5),
    (25.8, 25.5), (28.2, 25.8), (33.0, 25.7), (35.4, 25.4), (40.2, 25.5), (42.6, 25.2),
    (47.4, 25.4), (50.0, 25.7),
    (27.2, 26.9), (30.0, 26.4), (32.8, 27.1), (38.4, 27.0), (41.2, 26.3), (46.8, 27.2),
    (49.6, 26.5),
    (28.6, 28.1), (31.4, 28.4), (37.0, 28.3), (39.8, 28.0), (45.4, 28.1), (48.2, 27.8),
    (30.5, 29.6), (34.0, 29.1), (41.0, 29.3), (44.5, 29.7), (48.0, 29.2),
    (32.2, 30.8), (36.0, 31.1), (39.8, 30.6), (43.2, 31.0), (46.8, 30.7),
    (38.5, 32.4), (42.0, 31.8), (45.5, 32.2), (49.0, 31.6),
]
B_AUG4 = [
    (0.5, 0.9), (1.4, 0.6), (2.1, 0.9), (5.0, 0.9), (7.4, 0.8), (14.8, 2.3),
    (16.2, 4.1), (17.4, 2.8), (24.0, 7.6), (26.7, 16.2), (28.9, 13.1), (28.9, 14.3),
    (37.2, 32.4), (39.2, 18.1), (42.7, 18.3), (44.1, 27.8), (51.2, 49.9), (52.7, 60.2),
    (55.0, 54.3), (55.7, 64.4), (56.8, 71.4), (58.6, 63.2), (58.6, 46.6), (60.8, 67.3),
    (62.8, 2.3), (63.5, 100.0), (68.8, 12.6), (76.5, 21.8), (78.6, 91.7),
]
B_AVG = [(13.0, 2.7)]

SEASON_LABELS = ["Winter days 2017", "Spring days 2017", "Summer days 2017",
                 "Fall days 2017", "4 August 2017"]
COLORS = ["#0000ff", "#add8e6", "#008000", "#90ee90", "#ff0000", "#ffa500"]
SIZES = [210, 210, 210, 210, 340, 340]

X_TITLE = "total power production, share of maximum [%]"
Y_TITLE = "total power fluctuations, share of maxumum [%]"
TICKS = [0, 20, 40, 60, 80, 100]


def build_frame(winter, spring, summer, fall, aug4, avg, avg_label):
    # later groups are painted over earlier ones
    groups = [
        (SEASON_LABELS[1], spring),
        (SEASON_LABELS[2], summer),
        (SEASON_LABELS[3], fall),
        (SEASON_LABELS[0], winter),
        (SEASON_LABELS[4], aug4),
        (avg_label, avg),
    ]
    rows = []
    for name, pts in groups:
        for x, y in pts:
            rows.append({"x": x, "y": y, "series": name})
    return pd.DataFrame(rows)


def legend():
    return alt.Legend(
        title=None, orient="top-left", offset=11, padding=10,
        fillColor="rgba(255,255,255,0.8)", strokeColor="#cccccc", cornerRadius=5,
        labelFontSize=24, labelColor="#222222", labelLimit=600,
        symbolType="circle", symbolStrokeWidth=0, symbolOffset=12,
        labelOffset=27, rowPadding=13.6, zindex=2,
    )


def panel(df, avg_label, title):
    domain = SEASON_LABELS + [avg_label]
    return alt.Chart(df).mark_circle(opacity=1, clip=True).encode(
        x=alt.X("x:Q", scale=alt.Scale(domain=[0, 101], nice=False, zero=False),
                axis=alt.Axis(values=TICKS, title=X_TITLE, titlePadding=16,
                              labelFlush=False)),
        y=alt.Y("y:Q", scale=alt.Scale(domain=[0, 102], nice=False),
                axis=alt.Axis(values=TICKS, title=Y_TITLE, titlePadding=24,
                              labelFlush=False)),
        color=alt.Color("series:N", scale=alt.Scale(domain=domain, range=COLORS),
                        legend=legend()),
        size=alt.Size("series:N", scale=alt.Scale(domain=domain, range=SIZES),
                      legend=legend()),
    ).properties(
        width=1097, height=485,
        title=alt.TitleParams(title, fontSize=35, fontWeight="normal", color="#111111", offset=4),
    )


df_a = build_frame(A_WINTER, A_SPRING, A_SUMMER, A_FALL, A_AUG4, A_AVG, "Average day in 2017")
df_b = build_frame(B_WINTER, B_SPRING, B_SUMMER, B_FALL, B_AUG4, B_AVG, "Average 30 min in 2017")

chart = alt.vconcat(
    panel(df_a, "Average day in 2017", "(a)"),
    panel(df_b, "Average 30 min in 2017", "(b)"),
    spacing=0,
).resolve_scale(
    color="independent", size="independent"
).resolve_legend(
    color="independent", size="independent"
).properties(
    padding={"left": 9, "top": 12, "right": 5, "bottom": 5},
).configure(
    font="DejaVu Sans",
).configure_view(
    stroke="#222222", strokeWidth=1.2,
).configure_axis(
    labelFontSize=17.5, titleFontSize=19.8, titleFontWeight="normal",
    labelColor="#222222", titleColor="#222222", tickColor="#222222",
    tickSize=5, labelPadding=3, domain=False,
    grid=True, gridColor="#b0b0b0", gridWidth=1.1, zindex=1,
)

chart.save("out.html", embed_options={"renderer": "svg", "actions": False})
